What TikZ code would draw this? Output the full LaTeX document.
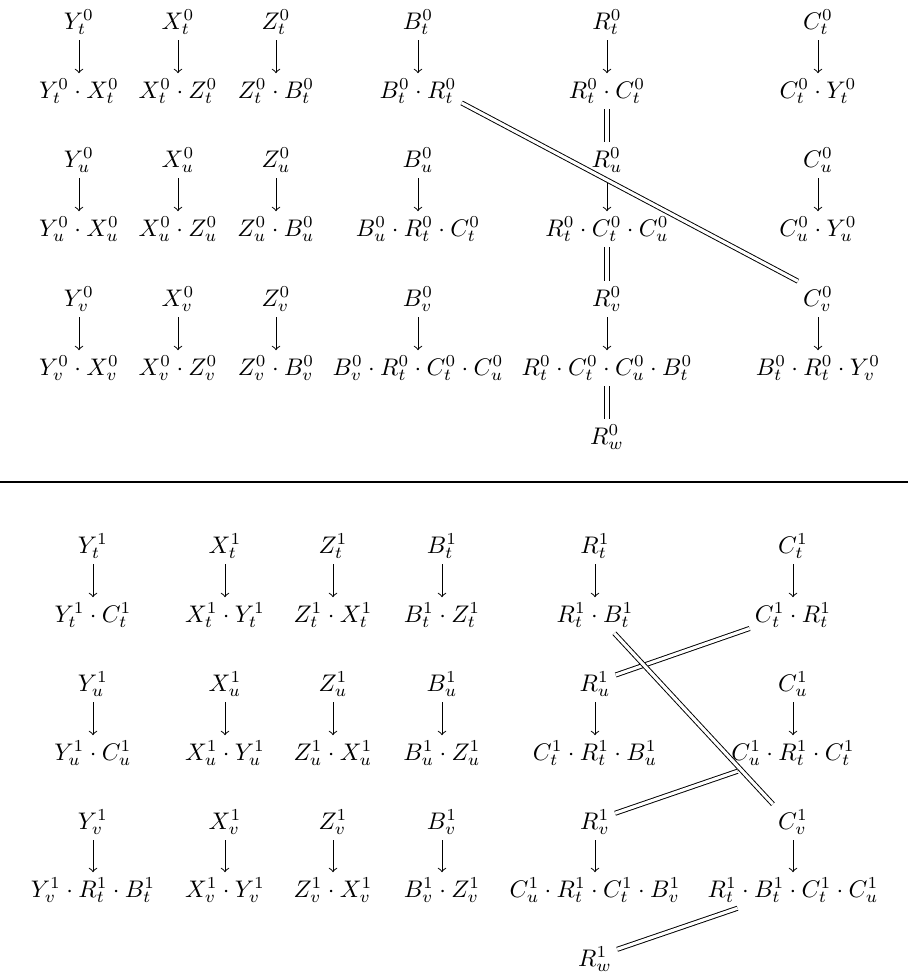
\documentclass[tikz,border=0pt]{standalone}
\begin{document}
\begin{tikzpicture}[x=0.4167pt, y=-0.4167pt,
  lbl/.style={anchor=base, inner sep=2pt},
  arr/.style={->},
  eq/.style={double, double distance=1.3pt}]
\useasboundingbox (0,0) rectangle (908,977);

% ---------- level 0 ----------
% column Y
\node[lbl] (Yt0) at (79,29)  {$Y^0_t$};
\node[lbl] (PYt0) at (79,98) {$Y^0_t\cdot X^0_t$};
\node[lbl] (Yu0) at (79,167) {$Y^0_u$};
\node[lbl] (PYu0) at (79,236) {$Y^0_u\cdot X^0_u$};
\node[lbl] (Yv0) at (79,306) {$Y^0_v$};
\node[lbl] (PYv0) at (79,375) {$Y^0_v\cdot X^0_v$};
% column X
\node[lbl] (Xt0) at (178,29)  {$X^0_t$};
\node[lbl] (PXt0) at (178,98) {$X^0_t\cdot Z^0_t$};
\node[lbl] (Xu0) at (178,167) {$X^0_u$};
\node[lbl] (PXu0) at (178,236) {$X^0_u\cdot Z^0_u$};
\node[lbl] (Xv0) at (178,306) {$X^0_v$};
\node[lbl] (PXv0) at (178,375) {$X^0_v\cdot Z^0_v$};
% column Z
\node[lbl] (Zt0) at (276,29)  {$Z^0_t$};
\node[lbl] (PZt0) at (276,98) {$Z^0_t\cdot B^0_t$};
\node[lbl] (Zu0) at (276,167) {$Z^0_u$};
\node[lbl] (PZu0) at (276,236) {$Z^0_u\cdot B^0_u$};
\node[lbl] (Zv0) at (276,306) {$Z^0_v$};
\node[lbl] (PZv0) at (276,375) {$Z^0_v\cdot B^0_v$};
% column B
\node[lbl] (Bt0) at (418,29)  {$B^0_t$};
\node[lbl] (PBt0) at (418,98) {$B^0_t\cdot R^0_t$};
\node[lbl] (Bu0) at (418,167) {$B^0_u$};
\node[lbl] (PBu0) at (418,236) {$B^0_u\cdot R^0_t\cdot C^0_t$};
\node[lbl] (Bv0) at (418,306) {$B^0_v$};
\node[lbl] (PBv0) at (418,375) {$B^0_v\cdot R^0_t\cdot C^0_t\cdot C^0_u$};
% column R
\node[lbl] (Rt0) at (607,29)  {$R^0_t$};
\node[lbl] (PRt0) at (607,98) {$R^0_t\cdot C^0_t$};
\node[lbl] (Ru0) at (607,167) {$R^0_u$};
\node[lbl] (PRu0) at (607,236) {$R^0_t\cdot C^0_t\cdot C^0_u$};
\node[lbl] (Rv0) at (607,306) {$R^0_v$};
\node[lbl] (PRv0) at (607,375) {$R^0_t\cdot C^0_t\cdot C^0_u\cdot B^0_t$};
\node[lbl] (Rw0) at (607,444) {$R^0_w$};
% column C
\node[lbl] (Ct0) at (818,29)  {$C^0_t$};
\node[lbl] (PCt0) at (818,98) {$C^0_t\cdot Y^0_t$};
\node[lbl] (Cu0) at (818,167) {$C^0_u$};
\node[lbl] (PCu0) at (818,236) {$C^0_u\cdot Y^0_u$};
\node[lbl] (Cv0) at (818,306) {$C^0_v$};
\node[lbl] (PCv0) at (818,375) {$B^0_t\cdot R^0_t\cdot Y^0_v$};

\foreach \c in {Y,X,Z,B,R,C}
  \foreach \r in {t,u,v}
    \draw[arr] (\c\r0) -- (P\c\r0);
\draw[eq] (PRt0) -- (Ru0);
\draw[eq] (PRu0) -- (Rv0);
\draw[eq] (PRv0) -- (Rw0);
\draw[eq] (PBt0.-15) -- (Cv0.north west);

% separating rule
\coordinate (ruleL) at (0,482);
\coordinate (ruleR) at (908,482);
\draw[line width=0.5pt] (ruleL) -- (ruleR);

% ---------- level 1 ----------
% column Y
\node[lbl] (Yt1) at (93,553)  {$Y^1_t$};
\node[lbl] (PYt1) at (93,622) {$Y^1_t\cdot C^1_t$};
\node[lbl] (Yu1) at (93,691) {$Y^1_u$};
\node[lbl] (PYu1) at (93,760) {$Y^1_u\cdot C^1_u$};
\node[lbl] (Yv1) at (93,829) {$Y^1_v$};
\node[lbl] (PYv1) at (93,897) {$Y^1_v\cdot R^1_t\cdot B^1_t$};
% column X
\node[lbl] (Xt1) at (225,553)  {$X^1_t$};
\node[lbl] (PXt1) at (225,622) {$X^1_t\cdot Y^1_t$};
\node[lbl] (Xu1) at (225,691) {$X^1_u$};
\node[lbl] (PXu1) at (225,760) {$X^1_u\cdot Y^1_u$};
\node[lbl] (Xv1) at (225,829) {$X^1_v$};
\node[lbl] (PXv1) at (225,897) {$X^1_v\cdot Y^1_v$};
% column Z
\node[lbl] (Zt1) at (333,553)  {$Z^1_t$};
\node[lbl] (PZt1) at (333,622) {$Z^1_t\cdot X^1_t$};
\node[lbl] (Zu1) at (333,691) {$Z^1_u$};
\node[lbl] (PZu1) at (333,760) {$Z^1_u\cdot X^1_u$};
\node[lbl] (Zv1) at (333,829) {$Z^1_v$};
\node[lbl] (PZv1) at (333,897) {$Z^1_v\cdot X^1_v$};
% column B
\node[lbl] (Bt1) at (442,553)  {$B^1_t$};
\node[lbl] (PBt1) at (442,622) {$B^1_t\cdot Z^1_t$};
\node[lbl] (Bu1) at (442,691) {$B^1_u$};
\node[lbl] (PBu1) at (442,760) {$B^1_u\cdot Z^1_u$};
\node[lbl] (Bv1) at (442,829) {$B^1_v$};
\node[lbl] (PBv1) at (442,897) {$B^1_v\cdot Z^1_v$};
% column R
\node[lbl] (Rt1) at (595,553)  {$R^1_t$};
\node[lbl] (PRt1) at (595,622) {$R^1_t\cdot B^1_t$};
\node[lbl] (Ru1) at (595,691) {$R^1_u$};
\node[lbl] (PRu1) at (595,760) {$C^1_t\cdot R^1_t\cdot B^1_u$};
\node[lbl] (Rv1) at (595,829) {$R^1_v$};
\node[lbl] (PRv1) at (595,897) {$C^1_u\cdot R^1_t\cdot C^1_t\cdot B^1_v$};
\node[lbl] (Rw1) at (595,966) {$R^1_w$};
% column C
\node[lbl] (Ct1) at (793,553)  {$C^1_t$};
\node[lbl] (PCt1) at (793,622) {$C^1_t\cdot R^1_t$};
\node[lbl] (Cu1) at (793,691) {$C^1_u$};
\node[lbl] (PCu1) at (793,760) {$C^1_u\cdot R^1_t\cdot C^1_t$};
\node[lbl] (Cv1) at (793,829) {$C^1_v$};
\node[lbl] (PCv1) at (793,897) {$R^1_t\cdot B^1_t\cdot C^1_t\cdot C^1_u$};

\foreach \c in {Y,X,Z,B,R,C}
  \foreach \r in {t,u,v}
    \draw[arr] (\c\r1) -- (P\c\r1);
\draw[eq] (PCt1.197) -- (Ru1.24);
\draw[eq] (PRt1.-43) -- (Cv1.north west);
\draw[eq] (PCu1.198) -- (Rv1.24);
\draw[eq] (PCv1.198) -- (Rw1.24);
\end{tikzpicture}
\end{document}
